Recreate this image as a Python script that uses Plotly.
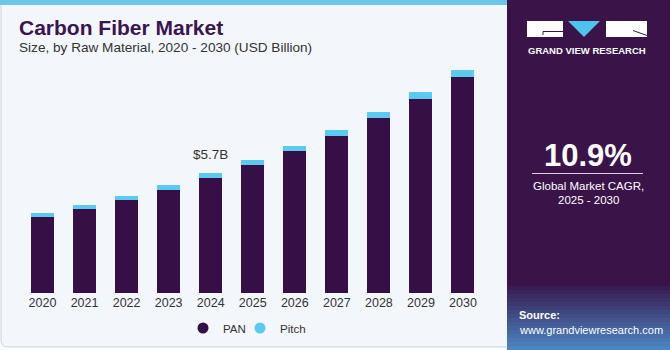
import plotly.graph_objects as go

# ---- data ----
years = ["2020", "2021", "2022", "2023", "2024", "2025", "2026", "2027", "2028", "2029", "2030"]
pan = [3.60, 3.98, 4.43, 4.92, 5.48, 6.08, 6.76, 7.49, 8.35, 9.24, 10.27]
pitch = [0.19, 0.19, 0.19, 0.22, 0.22, 0.24, 0.24, 0.29, 0.27, 0.33, 0.35]
label_year = "2024"
label_text = "$5.7B"

W, H = 670, 350
def px(x): return x / W
def py(y): return 1 - y / H

PAN_C = "#370F47"
PITCH_C = "#5CC9F1"
PANEL_C = "#3A1449"
FONT = "Liberation Sans, Arial, sans-serif"

fig = go.Figure()
fig.add_trace(go.Bar(x=years, y=pan, name="PAN", marker=dict(color=PAN_C, line=dict(width=0)), showlegend=False))
fig.add_trace(go.Bar(x=years, y=pitch, name="Pitch", marker=dict(color=PITCH_C, line=dict(width=0)), showlegend=False))
# legend entries (circle markers)
fig.add_trace(go.Scatter(x=[None], y=[None], mode="markers", name="PAN", legend="legend",
                         marker=dict(symbol="circle", size=11, color=PAN_C)))
fig.add_trace(go.Scatter(x=[None], y=[None], mode="markers", name="Pitch", legend="legend2",
                         marker=dict(symbol="circle", size=11, color=PITCH_C)))

idx = years.index(label_year)

shapes = []
# left panel background with border
shapes.append(dict(type="path", xref="paper", yref="paper",
                   path=f"M {px(1)},{py(0)} L {px(510)},{py(0)} L {px(510)},{py(347)} L {px(8)},{py(347)} "
                        f"Q {px(1)},{py(347)} {px(1)},{py(340)} Z",
                   fillcolor="#F3F7FC", line=dict(color="#CDD2D8", width=1), layer="below"))
# top stripe
shapes.append(dict(type="rect", xref="paper", yref="paper", x0=px(0), x1=px(507), y0=py(0), y1=py(5),
                   fillcolor="#6DC6EA", line=dict(width=0), layer="below"))
# right panel
shapes.append(dict(type="rect", xref="paper", yref="paper", x0=px(507), x1=px(670), y0=py(0), y1=py(288),
                   fillcolor=PANEL_C, line=dict(width=0), layer="below"))
# gradient strip for source area
c0 = (0x3A, 0x1C, 0x55)
c1 = (0x4B, 0x86, 0xC0)
n = 16
y_start, y_end = 286, 350
for i in range(n):
    t = i / (n - 1)
    c = tuple(int(c0[k] + (c1[k] - c0[k]) * t) for k in range(3))
    ya = y_start + (y_end - y_start) * i / n
    yb = y_start + (y_end - y_start) * (i + 1) / n
    shapes.append(dict(type="rect", xref="paper", yref="paper", x0=px(507), x1=px(670),
                       y0=py(ya), y1=py(yb + 0.5), fillcolor="rgb(%d,%d,%d)" % c,
                       line=dict(width=0), layer="below"))
# logo blocks
shapes.append(dict(type="rect", xref="paper", yref="paper", x0=px(527), x1=px(563), y0=py(21), y1=py(37),
                   fillcolor="white", line=dict(width=0)))
shapes.append(dict(type="path", xref="paper", yref="paper",
                   path=f"M {px(543)},{py(35)} L {px(543)},{py(31.5)} L {px(563)},{py(31.5)}",
                   line=dict(color=PANEL_C, width=1)))
shapes.append(dict(type="path", xref="paper", yref="paper",
                   path=f"M {px(568)},{py(21)} L {px(600)},{py(21)} L {px(584)},{py(37)} Z",
                   fillcolor="#4FC3F0", line=dict(width=0)))
shapes.append(dict(type="rect", xref="paper", yref="paper", x0=px(606), x1=px(647), y0=py(21), y1=py(37),
                   fillcolor="white", line=dict(width=0)))
shapes.append(dict(type="path", xref="paper", yref="paper",
                   path=f"M {px(633)},{py(30.5)} L {px(647)},{py(35.5)}",
                   line=dict(color=PANEL_C, width=1)))
# divider line under CAGR
shapes.append(dict(type="line", xref="paper", yref="paper", x0=px(532), x1=px(643), y0=py(173.5), y1=py(173.5),
                   line=dict(color="#D8D0E0", width=1)))

annotations = [
    dict(x=idx, y=pan[idx] + pitch[idx], xref="x", yref="y", text=label_text, showarrow=False,
         xanchor="center", yanchor="bottom", yshift=9, font=dict(family=FONT, size=13.5, color="#333333")),
    dict(x=px(17), y=py(28), xref="paper", yref="paper", text="<b>Carbon Fiber Market</b>", showarrow=False,
         xanchor="left", yanchor="middle", font=dict(family=FONT, size=21, color="#3B1450")),
    dict(x=px(17), y=py(48), xref="paper", yref="paper", text="Size, by Raw Material, 2020 - 2030 (USD Billion)",
         showarrow=False, xanchor="left", yanchor="middle", font=dict(family=FONT, size=13.6, color="#333333")),
    dict(x=px(587), y=py(51), xref="paper", yref="paper", text="<b>GRAND VIEW RESEARCH</b>", showarrow=False,
         xanchor="center", yanchor="middle", font=dict(family=FONT, size=9.5, color="white")),
    dict(x=px(588), y=py(155), xref="paper", yref="paper", text="<b>10.9%</b>", showarrow=False,
         xanchor="center", yanchor="middle", font=dict(family=FONT, size=31, color="white")),
    dict(x=px(588), y=py(186), xref="paper", yref="paper", text="Global Market CAGR,", showarrow=False,
         xanchor="center", yanchor="middle", font=dict(family=FONT, size=11.5, color="white")),
    dict(x=px(588), y=py(200), xref="paper", yref="paper", text="2025 - 2030", showarrow=False,
         xanchor="center", yanchor="middle", font=dict(family=FONT, size=11.5, color="white")),
    dict(x=px(517), y=py(315), xref="paper", yref="paper", text="<b>Source:</b>", showarrow=False,
         xanchor="left", yanchor="middle", font=dict(family=FONT, size=11, color="white")),
    dict(x=px(517), y=py(330), xref="paper", yref="paper", text="www.grandviewresearch.com", showarrow=False,
         xanchor="left", yanchor="middle", font=dict(family=FONT, size=11, color="white")),
]

leg_common = dict(orientation="h", xanchor="left", yanchor="middle", y=py(328),
                  font=dict(family=FONT, size=11.5, color="#333333"), bgcolor="rgba(0,0,0,0)",
                  itemwidth=30)

fig.update_layout(
    width=W, height=H,
    margin=dict(l=0, r=0, t=0, b=0),
    paper_bgcolor="white",
    plot_bgcolor="rgba(0,0,0,0)",
    barmode="stack",
    bargap=0.453,
    shapes=shapes,
    annotations=annotations,
    showlegend=True,
    legend=dict(x=px(183), **leg_common),
    legend2=dict(x=px(240), **leg_common),
    xaxis=dict(type="category", domain=[px(21.5), px(484)], range=[-0.5, 10.5], showgrid=False, showline=False,
               zeroline=False, ticks="", tickfont=dict(family=FONT, size=12.5, color="#333333"),
               fixedrange=True),
    yaxis=dict(domain=[py(293), py(62)], range=[0, 11], visible=False, showgrid=False, zeroline=False,
               fixedrange=True),
)

fig.write_html("out.html")
